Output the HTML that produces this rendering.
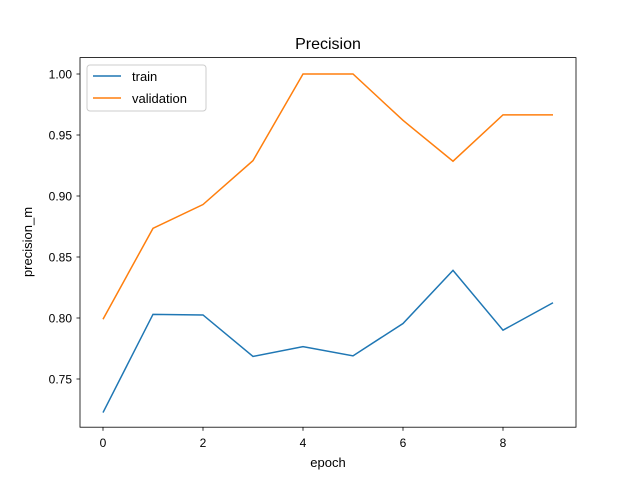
<!DOCTYPE html>
<html><head><meta charset="utf-8"><style>
body{margin:0;background:#fff;}
svg{font-family:"Liberation Sans","DejaVu Sans",sans-serif;}
</style></head><body>
<svg width="640" height="480" viewBox="0 0 640 480">
<rect width="640" height="480" fill="#fff"/>
<text x="328" y="49" text-anchor="middle" font-size="16">Precision</text>
<g id="ticks"></g>
<g id="lines"></g>
<rect x="80" y="57.6" width="496" height="369.6" fill="none" stroke="#000" stroke-width="0.8"/>
<text x="328" y="467" text-anchor="middle" font-size="13">epoch</text>
<text transform="translate(32,242) rotate(-90)" text-anchor="middle" font-size="13">precision_m</text>
<g>
<rect x="87" y="65" width="119" height="46" rx="3" fill="#fff" fill-opacity="0.8" stroke="#ccc" stroke-width="1"/>
<line x1="93" y1="76" x2="121" y2="76" stroke="#1f77b4" stroke-width="1.5"/>
<text x="132" y="81" font-size="13">train</text>
<line x1="93" y1="98" x2="121" y2="98" stroke="#ff7f0e" stroke-width="1.5"/>
<text x="132" y="103" font-size="13">validation</text>
</g>
</svg>
<script>
const epochs=[0,1,2,3,4,5,6,7,8,9];
const trainVals=[0.7225,0.8030,0.8025,0.7685,0.7765,0.7690,0.7955,0.8390,0.7900,0.8125];
const valVals=[0.7990,0.8735,0.8930,0.9290,1.0,1.0,0.9620,0.9285,0.9665,0.9665];
const xTicks=[0,2,4,6,8];
const yTicks=[0.75,0.80,0.85,0.90,0.95,1.00];
const xs=i=>103+50*i;
const ys=v=>74+(1-v)*1220;
const NS="http://www.w3.org/2000/svg";
const tg=document.getElementById('ticks');
xTicks.forEach(t=>{
 const l=document.createElementNS(NS,'line');
 l.setAttribute('x1',xs(t));l.setAttribute('x2',xs(t));l.setAttribute('y1',427.2);l.setAttribute('y2',430.7);l.setAttribute('stroke','#000');l.setAttribute('stroke-width','0.8');
 
 
 tg.appendChild(l);
 const tx=document.createElementNS(NS,'text');
 tx.setAttribute('x',xs(t));tx.setAttribute('y',447);tx.setAttribute('text-anchor','middle');tx.setAttribute('font-size','12');tx.textContent=t;
 
 
 tg.appendChild(tx);
});
yTicks.forEach(t=>{
 const l=document.createElementNS(NS,'line');
 l.setAttribute('x1',76.5);l.setAttribute('x2',80);l.setAttribute('y1',ys(t));l.setAttribute('y2',ys(t));l.setAttribute('stroke','#000');l.setAttribute('stroke-width','0.8');
 
 
 tg.appendChild(l);
 const tx=document.createElementNS(NS,'text');
 tx.setAttribute('x',72);tx.setAttribute('y',ys(t)+4.5);tx.setAttribute('text-anchor','end');tx.setAttribute('font-size','12');tx.textContent=t.toFixed(2);
 
 
 tg.appendChild(tx);
});
const lg=document.getElementById('lines');
[[trainVals,'#1f77b4','train-line'],[valVals,'#ff7f0e','validation-line']].forEach(([vals,c,n])=>{
 const p=document.createElementNS(NS,'polyline');
 p.setAttribute('points',vals.map((v,i)=>xs(epochs[i])+','+ys(v)).join(' '));
 p.setAttribute('fill','none');p.setAttribute('stroke',c);p.setAttribute('stroke-width','1.5');
 
 
 lg.appendChild(p);
});
</script>
</body></html>
